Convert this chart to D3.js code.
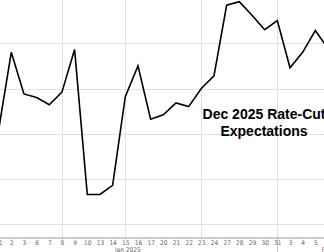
<!DOCTYPE html>
<html>
<head>
<meta charset="utf-8">
<script src="https://cdn.jsdelivr.net/npm/d3@7"></script>
<style>
  body { margin: 0; background: #fff; }
  svg { display: block; }
</style>
</head>
<body>
<div id="chart"></div>
<script>
// trading days shown on the axis (Dec 31 2024 .. Feb 6 2025)
var dayLabels = ["31", "2", "3", "6", "7", "8", "9", "10", "13", "14", "15", "16", "17",
                 "20", "21", "22", "23", "24", "27", "28", "29", "30", "31", "3", "4", "5", "6"];
// implied cuts priced for Dec 2025 (bps)
var cutValues = [40.4, 49.0, 44.4, 44.0, 43.2, 44.6, 49.3, 33.3, 33.3, 34.3, 44.1, 47.5, 41.6,
                 42.1, 43.4, 43.0, 45.0, 46.4, 54.2, 54.6, 53.1, 51.5, 52.5, 47.3, 49.0, 51.4, 49.4];
var gridValues = [30, 35, 40, 45, 50, 55];
var gridDays = [5, 10, 16, 22];
var monthLabels = [{i: 10.2, text: "Jan 2025", anchor: "middle"}, {i: 25.5, text: "Feb 2025", anchor: "start"}];

var width = 324, height = 252, axisY = 237.5;
var tickFont = "'Liberation Sans Narrow', 'DejaVu Sans Condensed', Arial, sans-serif";

var svg = d3.select("#chart").append("svg")
    .attr("width", width)
    .attr("height", height);

var x = d3.scaleLinear()
    .domain([0, dayLabels.length - 1])
    .range([-1.4, 328]);

var y = d3.scaleLinear()
    .domain([30, 55])
    .range([224.3, -2]);

// horizontal grid
svg.append("g").selectAll("line")
    .data(gridValues)
    .enter().append("line")
    .attr("x1", 0).attr("x2", width)
    .attr("y1", function(d) { return Math.round(y(d)) + 0.5; })
    .attr("y2", function(d) { return Math.round(y(d)) + 0.5; })
    .attr("stroke", "#e2e2e2")
    .attr("stroke-width", 1);

// vertical grid
svg.append("g").selectAll("line")
    .data(gridDays)
    .enter().append("line")
    .attr("x1", function(d) { return Math.round(x(d)) + 0.5; })
    .attr("x2", function(d) { return Math.round(x(d)) + 0.5; })
    .attr("y1", 0).attr("y2", axisY)
    .attr("stroke", "#e2e2e2")
    .attr("stroke-width", 1);

// month separator below axis
svg.append("line")
    .attr("x1", Math.round(x(22)) + 0.5).attr("x2", Math.round(x(22)) + 0.5)
    .attr("y1", axisY).attr("y2", height)
    .attr("stroke", "#c8c8c8");

// x axis
var xAxis = d3.axisBottom(x)
    .tickValues(d3.range(dayLabels.length))
    .tickFormat(function(i) { return dayLabels[i]; })
    .tickSize(2)
    .tickPadding(0.5);

var gx = svg.append("g")
    .attr("transform", "translate(0," + axisY + ")")
    .call(xAxis);
gx.select(".domain").attr("stroke", "#999").attr("d", "M0,0.5H" + width);
gx.selectAll(".tick line").attr("stroke", "#ccc");
gx.selectAll(".tick text")
    .attr("fill", "#666")
    .style("font-family", tickFont)
    .style("font-size", "6.5px");

svg.append("g").selectAll("text")
    .data(monthLabels)
    .enter().append("text")
    .attr("x", function(d) { return x(d.i); })
    .attr("y", 252)
    .attr("text-anchor", function(d) { return d.anchor; })
    .attr("fill", "#666")
    .style("font-family", tickFont)
    .style("font-size", "6.5px")
    .text(function(d) { return d.text; });

// the line
svg.append("path")
    .datum(cutValues)
    .attr("fill", "none")
    .attr("stroke", "#000")
    .attr("stroke-width", 1.6)
    .attr("stroke-linejoin", "miter")
    .attr("d", d3.line()
        .x(function(d, i) { return x(i); })
        .y(function(d) { return y(d); }));

// title inside the plot
var title = svg.append("text")
    .attr("text-anchor", "middle")
    .style("font-family", "'Liberation Sans', Arial, sans-serif")
    .style("font-size", "14px")
    .style("font-weight", "bold")
    .attr("fill", "#000");
title.append("tspan").attr("x", 264).attr("y", 119).text("Dec 2025 Rate-Cut");
title.append("tspan").attr("x", 264).attr("y", 136).text("Expectations");
</script>
</body>
</html>
